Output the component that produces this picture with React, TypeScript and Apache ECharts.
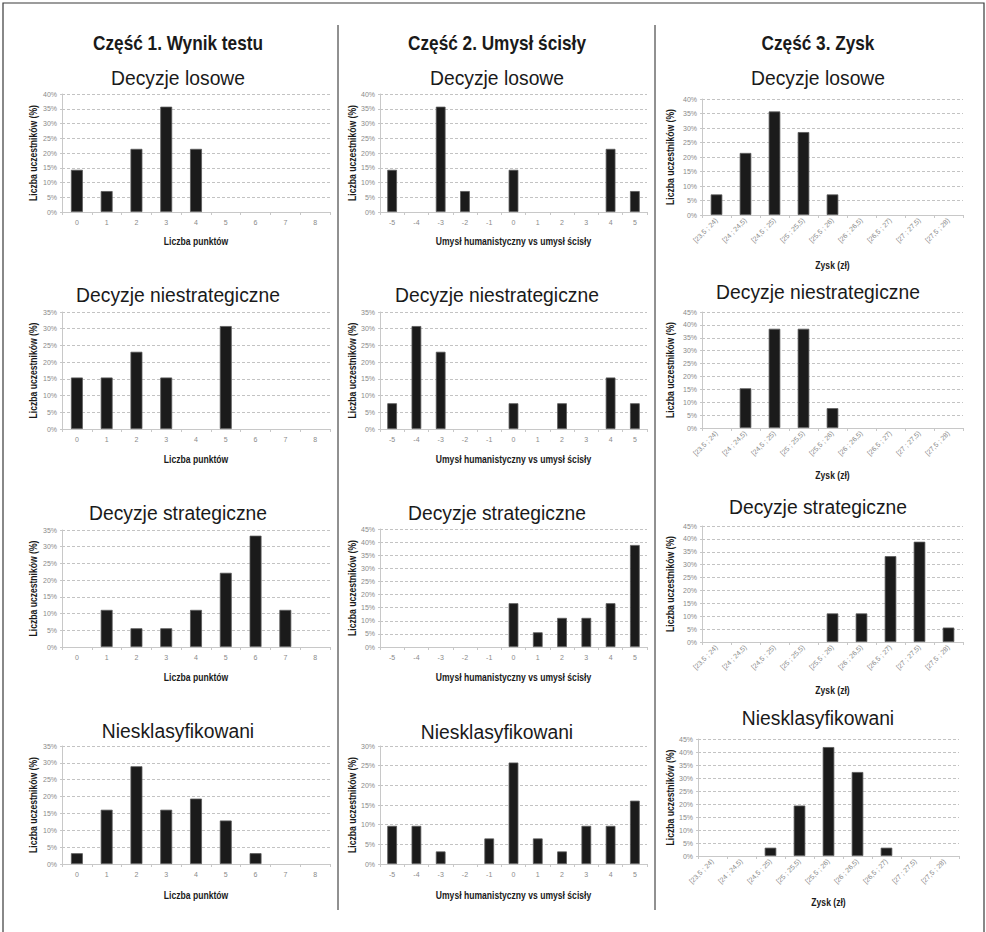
import React, { useEffect, useRef } from "react";
import * as echarts from "echarts";

// ---------- data ----------
const pointsCategories = ["0", "1", "2", "3", "4", "5", "6", "7", "8"];
const mindCategories = ["-5", "-4", "-3", "-2", "-1", "0", "1", "2", "3", "4", "5"];
const profitCategories = [
  "[23,5 ; 24)",
  "[24 ; 24,5)",
  "[24,5 ; 25)",
  "[25 ; 25,5)",
  "[25,5 ; 26)",
  "[26 ; 26,5)",
  "[26,5 ; 27)",
  "[27 ; 27,5)",
  "[27,5 ; 28)",
];

const columnTitles = ["Część 1. Wynik testu", "Część 2. Umysł ścisły", "Część 3. Zysk"];
const groupTitles = ["Decyzje losowe", "Decyzje niestrategiczne", "Decyzje strategiczne", "Niesklasyfikowani"];
const xAxisNames = ["Liczba punktów", "Umysł humanistyczny vs umysł ścisły", "Zysk (zł)"];
const yAxisName = "Liczba uczestników (%)";

// Part 1 – test score (%)
const scoreRandom = [14.3, 7.1, 21.4, 35.7, 21.4, 0, 0, 0, 0];
const scoreNonStrategic = [15.4, 15.4, 23.1, 15.4, 0, 30.8, 0, 0, 0];
const scoreStrategic = [0, 11.1, 5.6, 5.6, 11.1, 22.2, 33.3, 11.1, 0];
const scoreUnclassified = [3.2, 16.1, 29.0, 16.1, 19.4, 12.9, 3.2, 0, 0];

// Part 2 – mind type (%)
const mindRandom = [14.3, 0, 35.7, 7.1, 0, 14.3, 0, 0, 0, 21.4, 7.1];
const mindNonStrategic = [7.7, 30.8, 23.1, 0, 0, 7.7, 0, 7.7, 0, 15.4, 7.7];
const mindStrategic = [0, 0, 0, 0, 0, 16.7, 5.6, 11.1, 11.1, 16.7, 38.9];
const mindUnclassified = [9.7, 9.7, 3.2, 0, 6.5, 25.8, 6.5, 3.2, 9.7, 9.7, 16.1];

// Part 3 – profit (%)
const profitRandom = [7.1, 21.4, 35.7, 28.6, 7.1, 0, 0, 0, 0];
const profitNonStrategic = [0, 15.4, 38.5, 38.5, 7.7, 0, 0, 0, 0];
const profitStrategic = [0, 0, 0, 0, 11.1, 11.1, 33.3, 38.9, 5.6];
const profitUnclassified = [0, 0, 3.2, 19.4, 41.9, 32.3, 3.2, 0, 0];

// y-axis maxima per [row][column]
const yMaxima = [
  [40, 40, 40],
  [35, 35, 45],
  [35, 45, 45],
  [35, 30, 45],
];

const columnCategories = [pointsCategories, mindCategories, profitCategories];
const seriesGrid = [
  [scoreRandom, mindRandom, profitRandom],
  [scoreNonStrategic, mindNonStrategic, profitNonStrategic],
  [scoreStrategic, mindStrategic, profitStrategic],
  [scoreUnclassified, mindUnclassified, profitUnclassified],
];

// ---------- layout ----------
const colLeft = [62, 380, 702];
const colWidth = [268, 267, 261];
const colTitleX = [178, 497, 818];
const yNameX = [33, 352, 670];
const cellLayout = [
  [
    { top: 94, bottom: 212, titleY: 78, xNameY: 241 },
    { top: 94, bottom: 212, titleY: 78, xNameY: 241 },
    { top: 99, bottom: 215, titleY: 78, xNameY: 265 },
  ],
  [
    { top: 312, bottom: 429, titleY: 295, xNameY: 459 },
    { top: 312, bottom: 429, titleY: 295, xNameY: 459 },
    { top: 312, bottom: 428, titleY: 292, xNameY: 475 },
  ],
  [
    { top: 530, bottom: 647, titleY: 513, xNameY: 677 },
    { top: 529, bottom: 647, titleY: 513, xNameY: 677 },
    { top: 526, bottom: 642, titleY: 507, xNameY: 690 },
  ],
  [
    { top: 746, bottom: 864, titleY: 731, xNameY: 895 },
    { top: 746, bottom: 864, titleY: 732, xNameY: 895 },
    { top: 739, bottom: 856, titleY: 718, xNameY: 902 },
  ],
];

const SANS = "'Liberation Sans', Arial, Helvetica, sans-serif";

function condensedText(
  text: string,
  x: number,
  y: number,
  size: number,
  bold: boolean,
  squeeze: number,
  rotation = 0
) {
  return {
    type: "text",
    x,
    y,
    rotation,
    scaleX: squeeze,
    scaleY: 1,
    silent: true,
    style: {
      text,
      fontFamily: SANS,
      fontWeight: bold ? "bold" : "normal",
      fontSize: size,
      fill: "#1a1a1a",
      align: "center",
      verticalAlign: "middle",
    },
  };
}

function buildOption() {
  const grid: any[] = [];
  const xAxis: any[] = [];
  const yAxis: any[] = [];
  const series: any[] = [];
  const graphic: any[] = [];

  // outer frame and dividers
  graphic.push({
    type: "rect",
    shape: { x: 3, y: 3, width: 981, height: 940 },
    style: { fill: "none", stroke: "#3a3a3a", lineWidth: 1.2 },
    silent: true,
  });
  [338, 655].forEach((x) => {
    graphic.push({
      type: "line",
      shape: { x1: x, y1: 25, x2: x, y2: 910 },
      style: { stroke: "#222", lineWidth: 1 },
      silent: true,
    });
  });

  columnTitles.forEach((t, c) => {
    graphic.push(condensedText(t, colTitleX[c], 43, 21, true, 0.82));
  });

  let idx = 0;
  for (let r = 0; r < 4; r++) {
    for (let c = 0; c < 3; c++) {
      const cell = cellLayout[r][c];
      const left = r === 3 && c === 2 ? 698 : colLeft[c];
      const width = colWidth[c];
      graphic.push(condensedText(groupTitles[r], colTitleX[c], cell.titleY, 21, false, 0.92));
      graphic.push(condensedText(xAxisNames[c], left + width / 2, cell.xNameY, 11, true, 0.78));
      graphic.push(
        condensedText(yAxisName, yNameX[c], (cell.top + cell.bottom) / 2, 11, true, 0.78, Math.PI / 2)
      );
      grid.push({
        left,
        top: cell.top,
        width,
        height: cell.bottom - cell.top,
        containLabel: false,
      });
      const isProfit = c === 2;
      xAxis.push({
        type: "category",
        gridIndex: idx,
        data: columnCategories[c],
        boundaryGap: true,
        axisLine: { show: true, lineStyle: { color: "#c8c8c8", width: 1 } },
        axisTick: { show: true, length: 3, lineStyle: { color: "#c8c8c8" } },
        axisLabel: {
          fontFamily: SANS,
          fontSize: 7,
          color: "#8a8a8a",
          margin: isProfit ? 4 : 7,
          rotate: isProfit ? 45 : 0,
          interval: 0,
        },
      });
      yAxis.push({
        type: "value",
        gridIndex: idx,
        min: 0,
        max: yMaxima[r][c],
        interval: 5,
        axisLine: { show: true, lineStyle: { color: "#c8c8c8", width: 1 } },
        axisTick: { show: true, length: 2, lineStyle: { color: "#c8c8c8" } },
        axisLabel: {
          fontFamily: SANS,
          fontSize: 7,
          color: "#8a8a8a",
          margin: 5,
          formatter: "{value}%",
        },
        splitLine: {
          show: true,
          lineStyle: { color: "#b4b4b4", type: [3, 2], width: 0.8 },
        },
      });
      series.push({
        type: "bar",
        xAxisIndex: idx,
        yAxisIndex: idx,
        barWidth: "40%",
        data: seriesGrid[r][c].map((v) => (v === 0 ? "-" : v)),
        itemStyle: { color: "#1b1b1b", borderColor: "#5a5a5a", borderWidth: 0.8 },
        silent: true,
      });
      idx++;
    }
  }

  return {
    animation: false,
    backgroundColor: "#ffffff",
    grid,
    xAxis,
    yAxis,
    series,
    graphic,
  };
}

export default function App() {
  const ref = useRef<HTMLDivElement>(null);
  useEffect(() => {
    if (!ref.current) return;
    const chart = echarts.init(ref.current, undefined, { renderer: "svg" });
    chart.setOption(buildOption() as any);
    return () => chart.dispose();
  }, []);
  return (
    <div
      ref={ref}
      style={{ position: "absolute", left: 0, top: 0, width: 986, height: 932 }}
    />
  );
}
